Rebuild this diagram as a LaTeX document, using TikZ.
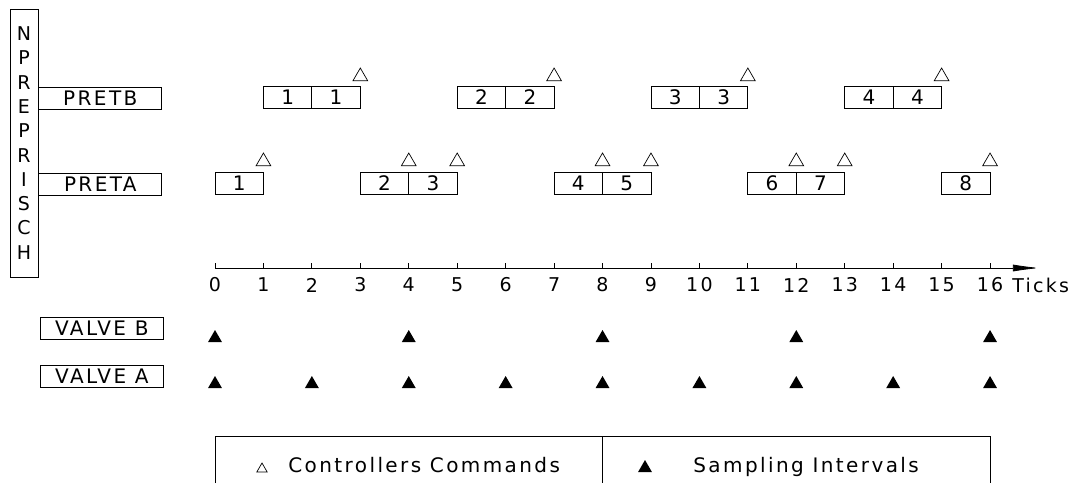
\documentclass[tikz,border=0pt]{standalone}
\usepackage{fontspec}
\setmainfont{DejaVu Sans}
\newfontfamily\plotfont[LetterSpace=12]{DejaVu Sans}
\usetikzlibrary{shapes.geometric,arrows.meta}
\begin{document}
\begin{tikzpicture}[x=1pt,y=-1pt,line width=0.8pt,
  every node/.style={font=\plotfont\fontsize{20}{24}\selectfont,inner sep=0pt},
  namebox/.style={draw,anchor=west,minimum width=123pt,minimum height=22pt},
  cell/.style={draw,minimum width=48.44pt,minimum height=22pt},
  cmd/.style={regular polygon,regular polygon sides=3,draw,minimum size=17pt,line width=0.7pt},
  smp/.style={regular polygon,regular polygon sides=3,fill,minimum size=16pt},
  axlabel/.style={font=\plotfont\fontsize{19}{22}\selectfont}]
\useasboundingbox (0,0) rectangle (1078,483);

% vertical program box
\node[draw,minimum width=28pt,minimum height=268pt,align=center,
      font=\plotfont\fontsize{19}{24.3}\selectfont] (npre) at (24,143)
  {N\\P\\R\\E\\P\\R\\I\\S\\C\\H};

% task name boxes
\node[namebox] (pretb) at (npre.east |- 0,98) {PRETB};
\node[namebox] (preta) at (npre.east |- 0,184) {PRETA};
\node[namebox] (valveb) at (40,328) {VALVE B};
\node[namebox] (valvea) at (40,376.5) {VALVE A};

\begin{scope}[shift={(215,0)},x=48.44pt]
  % PRETB executions and commands
  \foreach \t/\n [count=\i] in {1/1,2/1,5/2,6/2,9/3,10/3,13/4,14/4}
    \node[cell] (b\i) at ({\t+0.5},97) {\n};
  \foreach \t [count=\i] in {3,7,11,15}
    \node[cmd] (cb\i) at (\t,76.5) {};
  % PRETA executions and commands
  \foreach \t/\n in {0/1,3/2,4/3,7/4,8/5,11/6,12/7,15/8}
    \node[cell] (a\n) at ({\t+0.5},183) {\n};
  \foreach \t [count=\i] in {1,4,5,8,9,12,13,16}
    \node[cmd] (ca\i) at (\t,161.5) {};

  % time axis
  \coordinate (t0) at (0,268);
  \coordinate (tend) at (17.03,268);
  \draw[-{Latex[length=27pt,width=7pt]}] (t0) -- (tend);
  \foreach \t in {0,...,16}{
    \coordinate (k\t) at (\t,268);
    \draw (k\t) -- ++(0,-5);
    \node[axlabel] (l\t) at (\t,285) {\t};
  }
  \node[axlabel,anchor=west] (ticks) at (16.45,285) {Ticks};

  % valve sampling instants
  \foreach \t in {0,4,8,12,16}
    \node[smp] (vb\t) at (\t,338) {};
  \foreach \t in {0,2,...,16}
    \node[smp] (va\t) at (\t,384) {};

  % legend frame
  \coordinate (g0) at (0,436);
  \coordinate (g8) at (8,436);
  \coordinate (g16) at (16,436);
  \draw (0,483) -- (g0) -- (g16) -- (16,483);
  \draw (g8) -- (8,483);
\end{scope}

% legend entries
\node[cmd,minimum size=12pt] (lcmd) at (262,469) {};
\node[anchor=base west] (lcmdt) at (288,472) {Controllers Commands};
\node[smp] (lsmp) at (645,468) {};
\node[anchor=base west] (lsmpt) at (693,472) {Sampling Intervals};
\end{tikzpicture}
\end{document}
